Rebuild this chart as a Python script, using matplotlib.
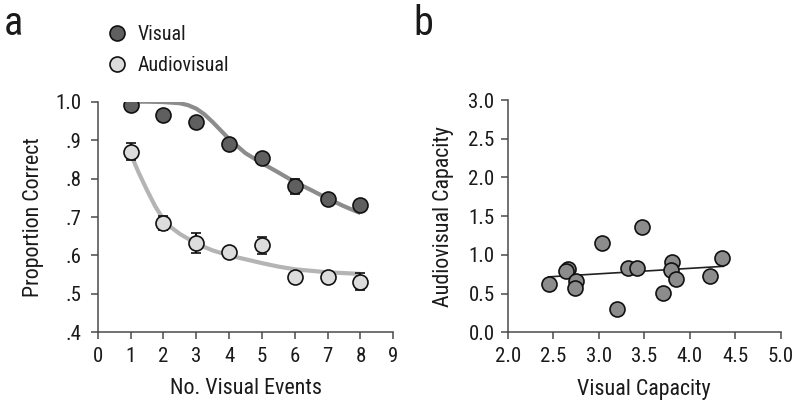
import matplotlib
matplotlib.use("Agg")
import matplotlib.pyplot as plt
from matplotlib.lines import Line2D
import numpy as np

plt.rcParams['font.family'] = ['Roboto Condensed', 'Archivo Narrow', 'DejaVu Sans']

# ---- Panel a data ----
events = [1, 2, 3, 4, 5, 6, 7, 8]
visual = [0.991, 0.965, 0.948, 0.891, 0.854, 0.780, 0.748, 0.732]
visual_err = [0.008, 0.008, 0.008, 0.010, 0.012, 0.020, 0.010, 0.010]
audiovisual = [0.870, 0.684, 0.633, 0.609, 0.626, 0.545, 0.543, 0.532]
audiovisual_err = [0.022, 0.018, 0.026, 0.010, 0.021, 0.010, 0.010, 0.022]

fit_x = [1, 1.5, 2, 2.5, 2.75, 3, 3.25, 3.5, 3.75, 4, 4.5, 5, 5.5, 6, 6.5, 7, 7.5, 8]
visual_fit = [1.0, 1.0, 0.999, 0.996, 0.991, 0.982, 0.967, 0.947, 0.925, 0.903, 0.866,
              0.840, 0.816, 0.791, 0.770, 0.748, 0.728, 0.710]
av_fit_x = [1, 1.25, 1.5, 1.75, 2, 2.25, 2.5, 3, 3.5, 4, 4.5, 5, 5.5, 6, 6.5, 7, 7.5, 8]
av_fit = [0.865, 0.815, 0.770, 0.728, 0.694, 0.672, 0.656, 0.631, 0.613, 0.600, 0.590,
          0.580, 0.571, 0.564, 0.560, 0.556, 0.554, 0.552]

a_xticks = [0, 1, 2, 3, 4, 5, 6, 7, 8, 9]
a_yticks = [0.4, 0.5, 0.6, 0.7, 0.8, 0.9, 1.0]
a_yticklabels = ['.4', '.5', '.6', '.7', '.8', '.9', '1.0']

# ---- Panel b data ----
vis_cap = [2.457, 2.666, 2.640, 2.746, 2.739, 3.039, 3.196, 3.317, 3.416, 3.474,
           3.705, 3.807, 3.797, 3.844, 4.228, 4.353]
av_cap = [0.624, 0.818, 0.792, 0.663, 0.568, 1.149, 0.301, 0.826, 0.826, 1.364,
          0.504, 0.904, 0.805, 0.684, 0.732, 0.956]
reg_x = [2.45, 4.37]
reg_y = [0.716, 0.852]
b_xticks = [2.0, 2.5, 3.0, 3.5, 4.0, 4.5, 5.0]
b_yticks = [0.0, 0.5, 1.0, 1.5, 2.0, 2.5, 3.0]

W, H = 800, 408
fig = plt.figure(figsize=(8, 4.08), dpi=100)

axa = fig.add_axes([97.7 / W, (H - 332.3) / H, 295.6 / W, 230.6 / H])
axb = fig.add_axes([507.7 / W, (H - 332.3) / H, 273.0 / W, 232.3 / H])

spine_col = '#4a4a4a'
text_col = '#1a1a1a'
tick_fs = 15
label_fs = 15.8
ms = 10.8

for ax in (axa, axb):
    for s in ('top', 'right'):
        ax.spines[s].set_visible(False)
    for s in ('left', 'bottom'):
        ax.spines[s].set_color(spine_col)
        ax.spines[s].set_linewidth(1.1)
    ax.tick_params(direction='out', length=5, width=1.1, color=spine_col,
                   labelsize=tick_fs, labelcolor=text_col)
    ax.tick_params(axis='x', pad=5.5)
axa.tick_params(axis='y', pad=6.5)
axb.tick_params(axis='y', pad=4.5)

# Panel a
axa.plot(fit_x, visual_fit, color='#8c8c8c', lw=3.0, solid_capstyle='butt', zorder=1)
axa.plot(av_fit_x, av_fit, color='#b4b4b4', lw=3.0, solid_capstyle='butt', zorder=1)
axa.errorbar(events, visual, yerr=visual_err, fmt='o', ms=ms, mfc='#5f5f5f',
             mec='#111111', mew=1.2, ecolor='#111111', elinewidth=1.5,
             capsize=3.5, capthick=1.5, zorder=3)
axa.errorbar(events, audiovisual, yerr=audiovisual_err, fmt='o', ms=ms, mfc='#dcdcdc',
             mec='#111111', mew=1.2, ecolor='#111111', elinewidth=1.5,
             capsize=3.5, capthick=1.5, zorder=3)
axa.set_xlim(0, 9)
axa.set_ylim(0.4, 1.0)
axa.set_xticks(a_xticks)
axa.set_yticks(a_yticks)
axa.set_yticklabels(a_yticklabels)
axa.set_xlabel('No. Visual Events', fontsize=label_fs, color=text_col)
axa.set_ylabel('Proportion Correct', fontsize=label_fs, color=text_col)
axa.xaxis.set_label_coords(0.5, -0.2)
axa.yaxis.set_label_coords(-0.18, 0.5)

handles = [Line2D([], [], ls='', marker='o', ms=ms, mfc='#5f5f5f', mec='#111111', mew=1.2),
           Line2D([], [], ls='', marker='o', ms=ms, mfc='#dcdcdc', mec='#111111', mew=1.2)]
fig.legend(handles, ['Visual', 'Audiovisual'], loc='upper left',
           bbox_to_anchor=(107 / W, 1 - 25 / H), frameon=False, fontsize=14.3,
           handletextpad=0.55, labelspacing=0.62, handlelength=1.0, borderaxespad=0,
           borderpad=0, labelcolor=text_col)

# Panel b
axb.plot(reg_x, reg_y, color='#222222', lw=1.2, zorder=2)
axb.plot(vis_cap, av_cap, 'o', ms=ms, mfc='#8c8c8c', mec='#111111', mew=1.2, zorder=3)
axb.set_xlim(2.0, 5.0)
axb.set_ylim(0.0, 3.0)
axb.set_xticks(b_xticks)
axb.set_yticks(b_yticks)
axb.set_xticklabels([f'{v:.1f}' for v in b_xticks])
axb.set_yticklabels([f'{v:.1f}' for v in b_yticks])
axb.set_xlabel('Visual Capacity', fontsize=label_fs, color=text_col)
axb.set_ylabel('Audiovisual Capacity', fontsize=label_fs, color=text_col)
axb.xaxis.set_label_coords(0.5, -0.2)
axb.yaxis.set_label_coords(-0.195, 0.5)

fig.text(4 / W, 1 - 35 / H, 'a', fontsize=29, color=text_col, va='baseline')
fig.text(413 / W, 1 - 35 / H, 'b', fontsize=29, color=text_col, va='baseline')

fig.savefig('out.png', dpi=100)
